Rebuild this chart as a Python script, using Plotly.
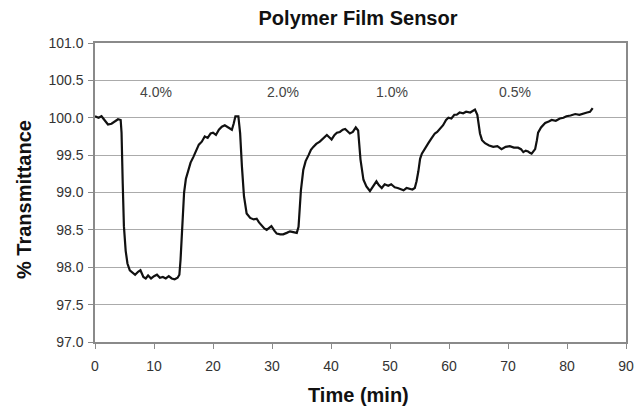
import plotly.graph_objects as go

# Time (min) and % Transmittance
time_min = [
    0, 0.6, 1.1, 1.6, 2.2, 2.8, 3.3, 3.9, 4.35,
    4.5, 4.7, 4.9, 5.2, 5.5, 5.9, 6.4, 6.8, 7.3, 7.7, 8.2, 8.6, 9.0, 9.5, 10.0, 10.5,
    11.0, 11.5, 12.0, 12.5, 13.0, 13.5, 14.0, 14.3,
    14.5, 14.8, 15.1, 15.4, 15.8, 16.2, 16.7, 17.2, 17.6, 18.1, 18.6, 19.1, 19.6, 20.0,
    20.5, 21.0, 21.5, 22.0, 22.4, 22.8, 23.2, 23.5, 23.8, 24.3,
    24.6, 24.9, 25.25, 25.7, 26.3, 26.9, 27.4, 27.8, 28.25, 28.7, 29.1, 29.5, 29.9,
    30.4, 30.8, 31.4, 31.9, 32.5, 33.05, 33.6, 34.2,
    34.5, 34.9, 35.3, 35.7, 36.2, 36.6, 37.0, 37.5, 38.1, 38.6, 39.3, 39.7, 40.1,
    40.6, 41.0, 41.5, 42.0, 42.4, 42.8, 43.2, 43.7, 44.2, 44.6,
    45.0, 45.5, 46.0, 46.6, 47.2, 47.7, 48.1, 48.6, 49.1, 49.7, 50.2, 50.8, 51.3,
    51.8, 52.3, 52.8, 53.4, 53.8, 54.2,
    54.5, 54.8, 55.1, 55.4, 55.9, 56.5, 57.0, 57.6, 58.0, 58.5, 59.0, 59.5, 59.9,
    60.4, 60.9, 61.3, 61.8, 62.4, 62.9, 63.6, 64.0, 64.4, 64.8,
    65.0, 65.25, 65.6, 66.1, 66.8, 67.5, 68.2, 68.9, 69.6, 70.3, 71.0, 71.7, 72.2,
    72.6, 73.0, 73.4, 73.7, 74.0, 74.3, 74.6,
    74.9, 75.1, 75.6, 76.3, 76.9, 77.4, 78.1, 78.8, 79.4, 79.9, 80.6, 81.4, 82.1,
    82.8, 83.4, 83.9, 84.35,
]
transmittance = [
    100.02, 100.00, 100.02, 99.97, 99.91, 99.92, 99.95, 99.98, 99.97,
    99.80, 99.12, 98.55, 98.22, 98.05, 97.96, 97.92, 97.90, 97.94, 97.96, 97.87, 97.85, 97.89, 97.85, 97.88, 97.90,
    97.86, 97.87, 97.85, 97.88, 97.85, 97.84, 97.86, 97.90,
    98.10, 98.65, 99.00, 99.18, 99.30, 99.40, 99.48, 99.57, 99.64, 99.68, 99.75, 99.73, 99.79, 99.80,
    99.77, 99.84, 99.88, 99.90, 99.88, 99.87, 99.84, 99.92, 100.02, 100.02,
    99.79, 99.35, 98.95, 98.72, 98.66, 98.64, 98.65, 98.60, 98.56, 98.52, 98.50, 98.53, 98.55,
    98.49, 98.45, 98.44, 98.44, 98.46, 98.48, 98.47, 98.46,
    98.54, 99.03, 99.30, 99.42, 99.50, 99.57, 99.61, 99.65, 99.68, 99.72, 99.77, 99.74, 99.71,
    99.77, 99.80, 99.81, 99.84, 99.85, 99.82, 99.79, 99.81, 99.87, 99.83,
    99.44, 99.17, 99.08, 99.02, 99.10, 99.15, 99.10, 99.06, 99.11, 99.09, 99.11, 99.07, 99.06,
    99.05, 99.03, 99.06, 99.05, 99.04, 99.06,
    99.15, 99.28, 99.45, 99.52, 99.59, 99.66, 99.72, 99.79, 99.81, 99.86, 99.90, 99.97, 100.00,
    99.99, 100.04, 100.04, 100.07, 100.06, 100.08, 100.07, 100.09, 100.11, 100.04,
    99.92, 99.79, 99.70, 99.66, 99.63, 99.61, 99.62, 99.58, 99.61, 99.62, 99.60, 99.60, 99.58,
    99.54, 99.56, 99.55, 99.53, 99.52, 99.55, 99.58,
    99.70, 99.80, 99.87, 99.93, 99.95, 99.97, 99.96, 99.99, 100.00, 100.02, 100.03, 100.05, 100.04,
    100.06, 100.07, 100.08, 100.13,
]

# Concentration labels and their positions
conc_labels = ["4.0%", "2.0%", "1.0%", "0.5%"]
conc_x = [10.3, 31.9, 50.4, 71.2]
conc_y = [100.34, 100.34, 100.34, 100.34]

y_ticks = [97.0, 97.5, 98.0, 98.5, 99.0, 99.5, 100.0, 100.5, 101.0]
x_ticks = [0, 10, 20, 30, 40, 50, 60, 70, 80, 90]

FONT = "Liberation Sans, Arial, sans-serif"

# The page body has an 8px margin, so the figure is sized to fit inside the window
W, H = 636, 402

fig = go.Figure()
fig.add_trace(go.Scatter(
    x=time_min, y=transmittance, mode="lines",
    line=dict(color="#111111", width=2.2),
    showlegend=False, hoverinfo="skip",
))

annotations = []
for lbl, xv, yv in zip(conc_labels, conc_x, conc_y):
    annotations.append(dict(
        x=xv, y=yv, xref="x", yref="y", text=lbl, showarrow=False,
        font=dict(family=FONT, size=14, color="#444444"),
        xanchor="center", yanchor="middle",
    ))
# axis titles
annotations.append(dict(
    x=0.5, y=0, xref="paper", yref="paper", text="<b>Time (min)</b>", showarrow=False,
    font=dict(family=FONT, size=20, color="#111111"),
    xanchor="center", yanchor="middle", yshift=-53, xshift=-2,
))
annotations.append(dict(
    x=0, y=0.5, xref="paper", yref="paper", text="<b>% Transmittance</b>", showarrow=False,
    font=dict(family=FONT, size=20, color="#111111"), textangle=-90,
    xanchor="center", yanchor="middle", xshift=-71.5, yshift=-7,
))

fig.update_layout(
    width=W, height=H,
    margin=dict(l=87, r=18, t=35, b=68, autoexpand=False),
    paper_bgcolor="white", plot_bgcolor="white",
    title=dict(text="<b>Polymer Film Sensor</b>", x=350 / W, xanchor="center",
               y=1 - 10 / H, yanchor="middle", yref="container",
               font=dict(family=FONT, size=20, color="#111111")),
    font=dict(family=FONT),
    annotations=annotations,
    xaxis=dict(
        range=[0, 90], tickvals=x_ticks, ticktext=[str(v) for v in x_ticks],
        showgrid=False, zeroline=False,
        showline=True, linecolor="#8a8a8a", linewidth=1.5, mirror=True,
        ticks="outside", ticklen=5, tickcolor="#8a8a8a", tickwidth=1.2,
        ticklabelstandoff=5,
        tickfont=dict(family=FONT, size=14, color="#333333"),
        fixedrange=True,
    ),
    yaxis=dict(
        range=[97, 101], tickvals=y_ticks, ticktext=[f"{v:.1f}" for v in y_ticks],
        showgrid=True, gridcolor="#ababab", gridwidth=1.3, zeroline=False,
        showline=True, linecolor="#8a8a8a", linewidth=1.5, mirror=True,
        ticks="outside", ticklen=5, tickcolor="#8a8a8a", tickwidth=1.2,
        ticklabelstandoff=2,
        tickfont=dict(family=FONT, size=14, color="#333333"),
        fixedrange=True,
    ),
)

fig.write_html("out.html")
